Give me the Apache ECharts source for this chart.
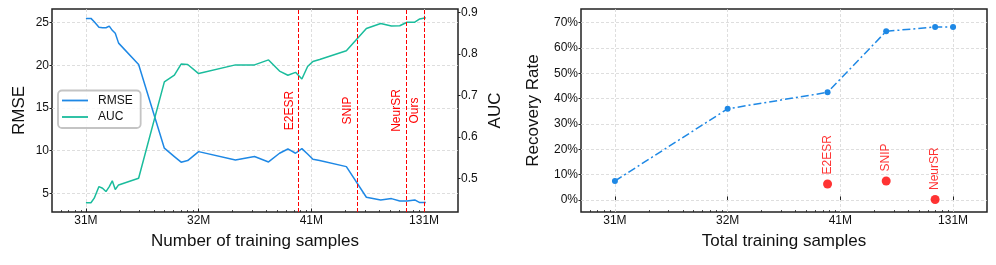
<!DOCTYPE html>
<html>
<head>
<meta charset="utf-8">
<script src="https://cdn.jsdelivr.net/npm/echarts@6/dist/echarts.min.js"></script>
<style>
html,body{margin:0;padding:0;background:#fff;}
#chart{width:996px;height:265px;}
</style>
</head>
<body>
<div id="chart"></div>
<script>
// ---------- data ----------
const sampleX = [10, 11.08, 11.85, 13.05, 14.04, 15.06, 16.11, 17.13, 18.21, 19.49, 29.34, 49.63, 60.9, 69.9, 79.97, 100, 212, 313, 417, 522, 619, 724, 824, 926, 1032, 1184, 2044, 3077, 4124, 5133, 6084, 7063, 8269, 9160, 10357];
const rmseValues = [25.5, 25.5, 25.1, 24.45, 24.4, 24.4, 24.6, 24.1, 23.75, 22.6, 20.1, 10.28, 9.3, 8.64, 8.83, 9.88, 8.9, 9.3, 8.67, 9.69, 10.19, 9.69, 10.23, 9.6, 8.98, 8.83, 8.12, 4.53, 4.22, 4.37, 4.1, 4.1, 4.22, 3.9, 3.9];
const aucValues = [0.441, 0.441, 0.452, 0.480, 0.476, 0.468, 0.480, 0.494, 0.473, 0.484, 0.500, 0.733, 0.749, 0.776, 0.775, 0.753, 0.774, 0.774, 0.786, 0.759, 0.749, 0.756, 0.740, 0.770, 0.782, 0.787, 0.808, 0.862, 0.874, 0.868, 0.8685, 0.877, 0.877, 0.885, 0.888];

const methodNames = ['E2ESR', 'SNIP', 'NeurSR', 'Ours'];
const methodX = [770, 2550, 6930, 10000];

const rateX = [10, 100, 770, 2550, 6930, 10000];
const rateValues = [7.5, 36.0, 42.5, 66.6, 68.3, 68.3];

const baselineNames = ['E2ESR', 'SNIP', 'NeurSR'];
const baselineX = [770, 2550, 6930];
const baselineRate = [6.3, 7.5, 0.2];

const xTickValues = [10, 100, 1000, 10000];
const xTickLabels = ['31M', '32M', '41M', '131M'];
const xMinorTicks = [6, 7, 8, 9, 20, 30, 40, 50, 60, 70, 80, 90, 200, 300, 400, 500, 600, 700, 800, 900, 2000, 3000, 4000, 5000, 6000, 7000, 8000, 9000];
const rmseTicks = [5, 10, 15, 20, 25];
const aucTicks = [0.5, 0.6, 0.7, 0.8, 0.9];
const rateTicks = [0, 10, 20, 30, 40, 50, 60, 70];

// ---------- style ----------
const FONT = '"Liberation Sans", Arial, Helvetica, sans-serif';
const TXT = '#111';
const BLUE = '#1E88E5';
const GREEN = '#1ABC9C';
const RED = '#ff0000';
const GRIDLINE = {show: true, lineStyle: {type: [3, 2], color: '#d6d6d6', width: 0.8}};

function xLabel(v) {
  const i = xTickValues.findIndex(t => Math.abs(t - v) / t < 1e-6);
  return i >= 0 ? xTickLabels[i] : '';
}

function majorX(grid, name) {
  return {
    type: 'log', logBase: 10, gridIndex: grid, min: 5, max: 20000, position: 'bottom',
    axisLine: {show: false},
    axisTick: {show: true, inside: true, length: 3.5, customValues: xTickValues, lineStyle: {color: '#222', width: 1}},
    axisLabel: {customValues: xTickValues, formatter: xLabel, margin: 3, fontSize: 12, color: TXT, fontFamily: FONT},
    splitLine: GRIDLINE,
    name: name, nameLocation: 'middle', nameGap: 21,
    nameTextStyle: {fontSize: 17, color: TXT, fontFamily: FONT}
  };
}
function minorX(grid) {
  return {
    type: 'log', logBase: 10, gridIndex: grid, min: 5, max: 20000, position: 'bottom',
    axisLine: {show: false},
    axisTick: {show: true, inside: true, length: 2, customValues: xMinorTicks, lineStyle: {color: '#222', width: 0.8}},
    axisLabel: {show: false},
    splitLine: {show: false}
  };
}
function yAx(grid, pos, min, max, ticks, fmt, name, gap, grid_) {
  return {
    type: 'value', gridIndex: grid, position: pos, min: min, max: max,
    axisLine: {show: false},
    axisTick: {show: true, inside: false, length: 2.5, customValues: ticks, lineStyle: {color: '#222', width: 1}},
    axisLabel: {customValues: ticks, formatter: fmt, margin: 3, fontSize: 12, color: TXT, fontFamily: FONT},
    splitLine: grid_ ? GRIDLINE : {show: false},
    name: name, nameLocation: 'middle', nameGap: gap, nameRotate: 90,
    nameTextStyle: {fontSize: 17, color: TXT, fontFamily: FONT}
  };
}

const chart = echarts.init(document.getElementById('chart'), null, {renderer: 'canvas'});
chart.setOption({
  animation: false,
  backgroundColor: '#fff',
  textStyle: {fontFamily: FONT},
  grid: [
    {left: 52, top: 9, width: 406, height: 203, show: true, borderColor: '#222', borderWidth: 1.5, containLabel: false},
    {left: 581, top: 9, width: 406, height: 203, show: true, borderColor: '#222', borderWidth: 1.5, containLabel: false}
  ],
  legend: {
    data: ['RMSE', 'AUC'], orient: 'vertical', left: 58, top: 90.5,
    icon: 'rect', itemWidth: 26, itemHeight: 1.8, itemGap: 4.5,
    padding: [4, 8, 5, 4],
    backgroundColor: 'rgba(255,255,255,0.85)', borderColor: '#c4c4c4', borderWidth: 1.8, borderRadius: 4,
    textStyle: {fontSize: 12, color: TXT, fontFamily: FONT, padding: [0, 0, 0, 5]}
  },
  xAxis: [
    majorX(0, 'Number of training samples'),
    minorX(0),
    majorX(1, 'Total training samples'),
    minorX(1)
  ],
  yAxis: [
    yAx(0, 'left', 2.8, 26.6, rmseTicks, v => String(v), 'RMSE', 24, true),
    yAx(0, 'right', 0.4186, 0.909, aucTicks, v => v.toFixed(1), 'AUC', 29, false),
    yAx(1, 'left', -4.74, 75.4, rateTicks, v => v + '%', 'Recovery Rate', 39, true)
  ],
  series: [
    {
      name: 'RMSE', type: 'line', xAxisIndex: 0, yAxisIndex: 0,
      data: sampleX.map((x, i) => [x, rmseValues[i]]),
      symbol: 'none', lineStyle: {color: BLUE, width: 1.5}, itemStyle: {color: BLUE},
      markLine: {
        silent: true, symbol: ['none', 'none'],
        lineStyle: {color: RED, type: [4, 2], width: 1},
        label: {show: true, formatter: '{b}', position: 'insideMiddleTop', distance: 3, color: RED, fontSize: 12, fontFamily: FONT},
        data: methodNames.map((m, i) => ({name: m, xAxis: methodX[i]}))
      }
    },
    {
      name: 'AUC', type: 'line', xAxisIndex: 0, yAxisIndex: 1,
      data: sampleX.map((x, i) => [x, aucValues[i]]),
      symbol: 'none', lineStyle: {color: GREEN, width: 1.5}, itemStyle: {color: GREEN}
    },
    {
      name: 'Ours', type: 'line', xAxisIndex: 2, yAxisIndex: 2,
      data: rateX.map((x, i) => [x, rateValues[i]]),
      symbol: 'circle', symbolSize: 6, showSymbol: true,
      lineStyle: {color: BLUE, width: 1.5, type: [8, 3, 2, 3]}, itemStyle: {color: BLUE}
    },
    {
      name: 'Baselines', type: 'scatter', xAxisIndex: 2, yAxisIndex: 2,
      data: baselineNames.map((n, i) => ({name: n, value: [baselineX[i], baselineRate[i]]})),
      symbolSize: 9, itemStyle: {color: RED},
      label: {show: true, formatter: '{b}', position: 'top', rotate: 90, align: 'left', verticalAlign: 'middle', distance: 5, color: RED, fontSize: 12, fontFamily: FONT}
    }
  ]
});
</script>
</body>
</html>
